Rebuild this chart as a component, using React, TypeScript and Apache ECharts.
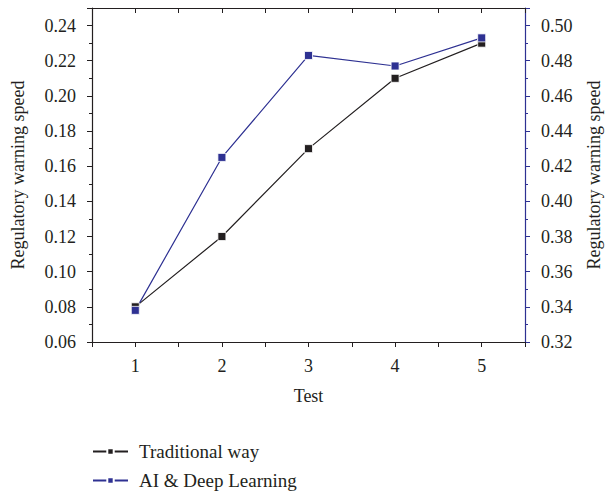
import React, { useEffect, useRef } from "react";
import * as echarts from "echarts";

const tests = [1, 2, 3, 4, 5];
const traditional = [0.08, 0.12, 0.17, 0.21, 0.23];
const aiDeep = [0.338, 0.425, 0.483, 0.477, 0.493];

const BLACK = "#231f20";
const BLUE = "#2e3192";
const FONT = "Liberation Serif";

export default function App() {
  const ref = useRef<HTMLDivElement>(null);
  useEffect(() => {
    const chart = echarts.init(ref.current!, undefined, { renderer: "svg" });
    const axisText = { color: BLACK, fontFamily: FONT, fontSize: 18 };
    const legendCommon = {
      orient: "horizontal",
      left: 92,
      padding: 0,
      itemWidth: 35,
      itemHeight: 8,
      textStyle: { ...axisText, fontSize: 19, padding: [0, 0, 0, 6] },
    };
    chart.setOption({
      animation: false,
      backgroundColor: "#fff",
      textStyle: { fontFamily: FONT },
      grid: { left: 92, right: 84, top: 8, bottom: 149 },
      legend: [
        { ...legendCommon, top: 442, data: ["Traditional way"] },
        { ...legendCommon, top: 471, data: ["AI & Deep Learning"] },
      ],
      xAxis: [
        {
          type: "value",
          min: 0.5,
          max: 5.5,
          interval: 0.5,
          position: "bottom",
          name: "Test",
          nameLocation: "middle",
          nameGap: 45,
          nameTextStyle: axisText,
          axisLine: { lineStyle: { color: BLACK, width: 1.2 } },
          axisTick: { show: true, length: 5, lineStyle: { color: BLACK } },
          axisLabel: {
            ...axisText,
            margin: 15,
            formatter: (v: number) => (Math.abs(v - Math.round(v)) < 1e-6 ? String(Math.round(v)) : ""),
          },
          splitLine: { show: false },
        },
        {
          type: "value",
          min: 0.5,
          max: 5.5,
          interval: 0.5,
          position: "top",
          axisLine: { lineStyle: { color: BLACK, width: 1.2 } },
          axisTick: { show: true, inside: true, length: 5, lineStyle: { color: BLACK } },
          axisLabel: { show: false },
          splitLine: { show: false },
        },
      ],
      yAxis: [
        {
          type: "value",
          min: 0.06,
          max: 0.25,
          interval: 0.02,
          position: "left",
          name: "Regulatory warning speed",
          nameLocation: "middle",
          nameGap: 65,
          nameTextStyle: axisText,
          axisLine: { show: true, lineStyle: { color: BLACK, width: 1.2 } },
          axisTick: { show: true, length: 5, lineStyle: { color: BLACK } },
          minorTick: { show: true, splitNumber: 2, length: 3, lineStyle: { color: BLACK } },
          axisLabel: {
            ...axisText,
            margin: 16,
            formatter: (v: number) => (v > 0.245 ? "" : v.toFixed(2)),
          },
          splitLine: { show: false },
        },
        {
          type: "value",
          min: 0.32,
          max: 0.51,
          interval: 0.02,
          position: "right",
          name: "Regulatory warning speed",
          nameLocation: "middle",
          nameGap: 60,
          nameRotate: 90,
          nameTextStyle: axisText,
          axisLine: { show: true, lineStyle: { color: BLUE, width: 1.2 } },
          axisTick: { show: true, length: 5, lineStyle: { color: BLUE } },
          minorTick: { show: true, splitNumber: 2, length: 3, lineStyle: { color: BLUE } },
          axisLabel: {
            ...axisText,
            margin: 16,
            formatter: (v: number) => (v > 0.505 ? "" : v.toFixed(2)),
          },
          splitLine: { show: false },
        },
      ],
      series: [
        {
          name: "Traditional way",
          type: "line",
          xAxisIndex: 0,
          yAxisIndex: 0,
          data: tests.map((t, i) => [t, traditional[i]]),
          symbol: "rect",
          symbolSize: 8,
          lineStyle: { color: BLACK, width: 1.2 },
          itemStyle: { color: BLACK, borderColor: "#fff", borderWidth: 0.8 },
        },
        {
          name: "AI & Deep Learning",
          type: "line",
          xAxisIndex: 0,
          yAxisIndex: 1,
          data: tests.map((t, i) => [t, aiDeep[i]]),
          symbol: "rect",
          symbolSize: 8,
          lineStyle: { color: BLUE, width: 1.2 },
          itemStyle: { color: BLUE, borderColor: "#fff", borderWidth: 0.8 },
        },
      ],
    });
    return () => chart.dispose();
  }, []);
  return (
    <div
      ref={ref}
      style={{ position: "absolute", left: 0, top: 0, width: 611, height: 491 }}
    />
  );
}
